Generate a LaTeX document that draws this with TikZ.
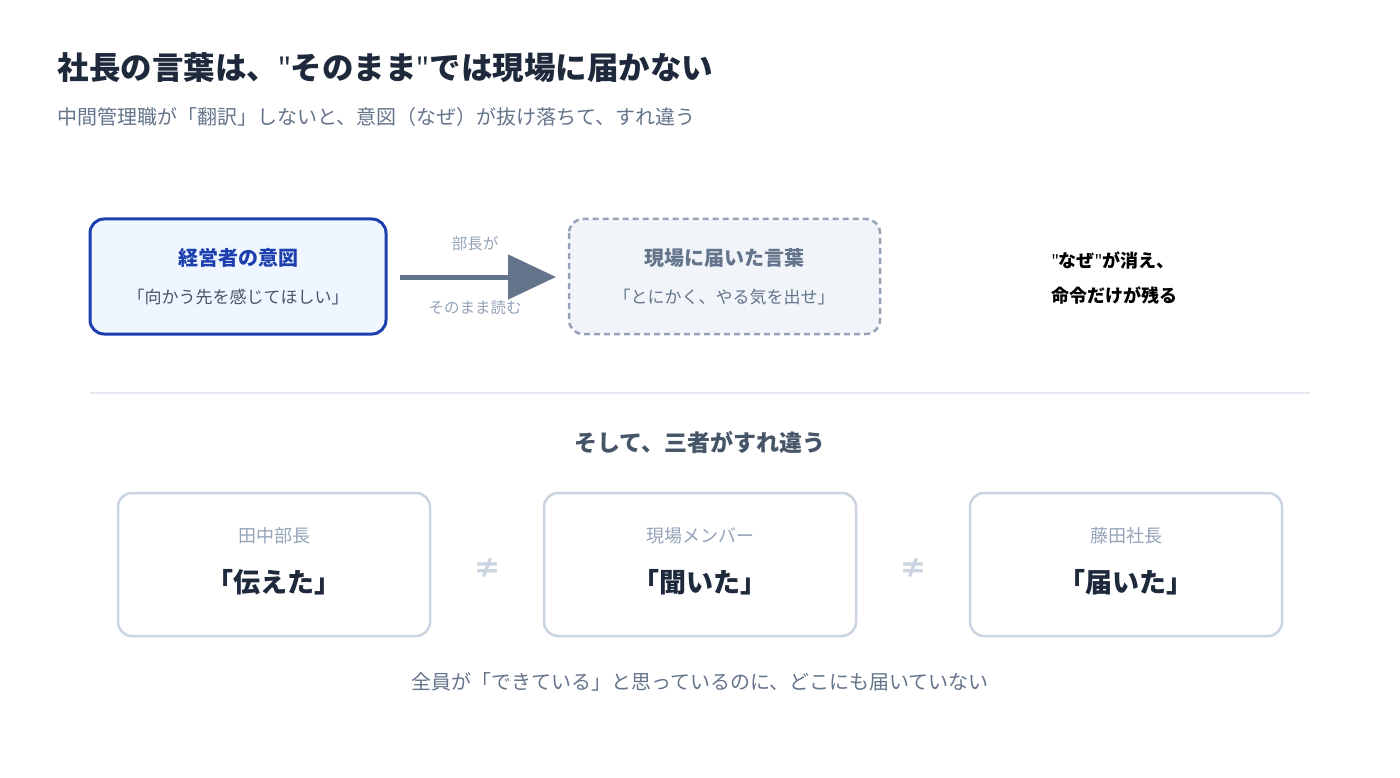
\documentclass[tikz,border=0pt]{standalone}
\usepackage{fontspec}
\setmainfont{Noto Sans CJK JP}
\newfontfamily\lat{Noto Sans}
\usetikzlibrary{arrows.meta}
\definecolor{navy}{HTML}{1E293B}
\definecolor{slate}{HTML}{64748B}
\definecolor{slatel}{HTML}{94A3B8}
\definecolor{slated}{HTML}{475569}
\definecolor{bord}{HTML}{CBD5E1}
\definecolor{blu}{HTML}{1E40AF}
\definecolor{blubg}{HTML}{EFF6FF}
\definecolor{grbg}{HTML}{F1F5F9}
\definecolor{rule}{HTML}{E2E8F0}
\newcommand{\dq}{{\lat\symbol{34}}}
\begin{document}
\begin{tikzpicture}[x=1pt,y=-1pt,
  card/.style={draw=bord,line width=2.5pt,rounded corners=14pt,fill=white},
  lab/.style={font=\fontsize{18}{20}\selectfont,text=slatel},
  big/.style={font=\fontsize{27}{30}\selectfont\bfseries,text=navy},
  neq/.style={font=\fontsize{28}{30}\selectfont\bfseries,text=bord}]
\useasboundingbox[fill=white] (0,0) rectangle (1400,778);
\node[anchor=west,font=\fontsize{31.5}{34}\selectfont\bfseries,text=navy] (title) at (54,68) {社長の言葉は、\dq そのまま\dq では現場に届かない};
\node[anchor=west,font=\fontsize{20}{22}\selectfont,text=slate] (sub) at (54,117) {中間管理職が「翻訳」しないと、意図（なぜ）が抜け落ちて、すれ違う};
\draw[draw=blu,line width=3pt,fill=blubg,rounded corners=14pt] (90,219) rectangle (386,334);
\node[font=\fontsize{20}{22}\selectfont\bfseries,text=blu] (b1t) at (238,258) {経営者の意図};
\node[font=\fontsize{17}{20}\selectfont,text=slated] (b1s) at (238,297) {「向かう先を感じてほしい」};
\draw[draw=slatel,line width=2.5pt,dash pattern=on 6pt off 4pt,fill=grbg,rounded corners=14pt] (569,219) rectangle (880,334);
\node[font=\fontsize{20}{22}\selectfont\bfseries,text=slate] (b2t) at (724,258) {現場に届いた言葉};
\node[font=\fontsize{17}{20}\selectfont,text=slate] (b2s) at (724,297) {「とにかく、やる気を出せ」};
\coordinate (a0) at (400,277); \coordinate (a1) at (556,277);
\draw[slate,line width=5pt,-{Triangle[length=48pt,width=44pt]}] (a0) -- (a1);
\node[font=\fontsize{15.5}{18}\selectfont,text=slatel] (l1) at (475,244) {部長が};
\node[font=\fontsize{15.5}{18}\selectfont,text=slatel] (l2) at (475,308) {そのまま読む};
\node[anchor=west,font=\fontsize{18}{20}\selectfont\bfseries,text=black] (r1) at (1048,260) {\dq なぜ\dq が消え、};
\node[anchor=west,font=\fontsize{18}{20}\selectfont\bfseries,text=black] (r2) at (1048,296) {命令だけが残る};
\draw[rule,line width=1.5pt] (90,393) -- (1310,393);
\node[font=\fontsize{23}{26}\selectfont\bfseries,text=slated] (mid) at (700,443) {そして、三者がすれ違う};
\draw[card] (118,493) rectangle (430,636);
\draw[card] (544,493) rectangle (856,636);
\draw[card] (970,493) rectangle (1282,636);
\node[lab] (c1l) at (274,536) {田中部長};
\node[big] (c1b) at (274,582) {「伝えた」};
\node[lab] (c2l) at (700,536) {現場メンバー};
\node[big] (c2b) at (700,582) {「聞いた」};
\node[lab] (c3l) at (1126,536) {藤田社長};
\node[big] (c3b) at (1126,582) {「届いた」};
\node[neq] (n1) at (487,568) {≠};
\node[neq] (n2) at (913,568) {≠};
\node[font=\fontsize{20}{22}\selectfont,text=slate] (foot) at (700,682) {全員が「できている」と思っているのに、どこにも届いていない};
\end{tikzpicture}
\end{document}
